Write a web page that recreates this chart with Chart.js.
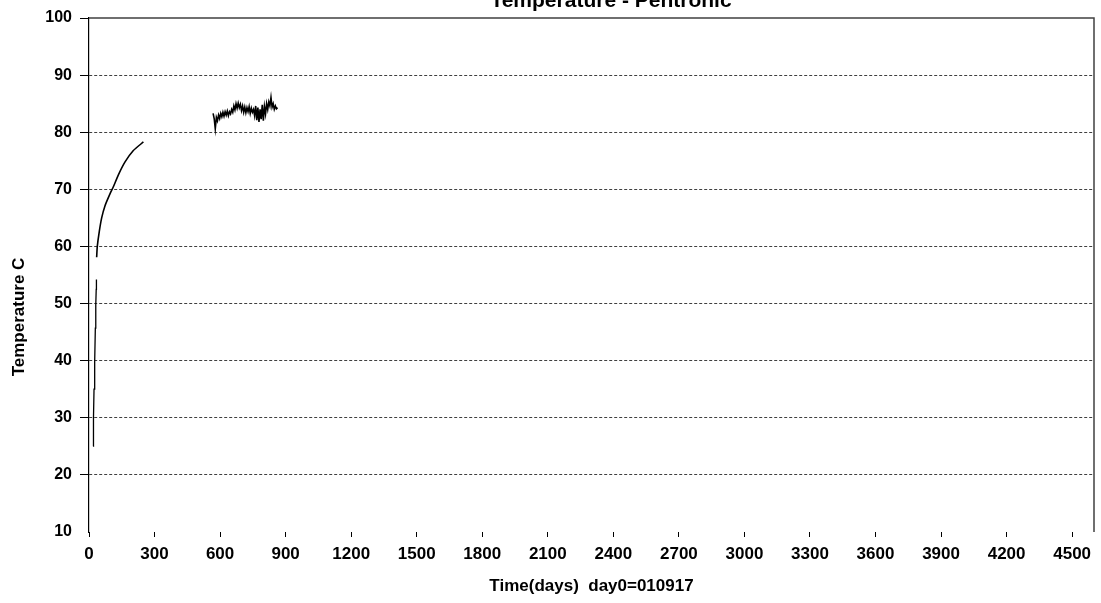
<!DOCTYPE html>
<html>
<head>
<meta charset="utf-8">
<script src="https://cdn.jsdelivr.net/npm/chart.js@4/dist/chart.umd.min.js"></script>
<style>
	html, body { margin: 0; padding: 0; background: #fff; }
	#wrap { position: relative; width: 1101px; height: 603px; }
</style>
</head>
<body>
<div id="wrap"><canvas id="chart"></canvas></div>
<script>
const chartTitle = 'Temperature - Pentronic';
const xTitle = 'Time(days)  day0=010917';
const yTitle = 'Temperature C';

const xTickValues = [0, 300, 600, 900, 1200, 1500, 1800, 2100, 2400, 2700, 3000, 3300, 3600, 3900, 4200, 4500];
const yTickValues = [10, 20, 30, 40, 50, 60, 70, 80, 90, 100];

// first heat-up, almost vertical
const riseDays = [20, 20.5, 23, 26, 29, 31, 33, 34];
const riseTemps = [25.0, 30.0, 35.0, 39.8, 45.7, 49.8, 52.5, 54.2];

// second run, slow approach
const warmupDays = [35, 38, 47, 58, 73, 96, 111, 134, 165, 203, 249];
const warmupTemps = [58.1, 60.0, 62.6, 65.0, 67.1, 69.2, 70.4, 72.5, 74.8, 76.8, 78.3];

// noisy plateau
const plateauDays = [
	568, 573, 578, 583, 588, 593, 598, 603, 608, 613,
	618, 623, 628, 633, 638, 643, 648, 653, 658, 663,
	668, 673, 678, 683, 688, 693, 698, 703, 708, 713,
	718, 723, 728, 733, 738, 743, 748, 753, 758, 763,
	768, 773, 778, 783, 788, 793, 798, 803, 808, 813,
	818, 823, 828, 833, 838, 843, 848, 853, 858, 863,
];
const plateauTemps = [
	83.3, 82.4, 80.6, 82.6, 82.0, 83.0, 82.4, 83.3, 82.7, 83.5,
	82.8, 83.6, 83.0, 83.7, 82.9, 83.6, 83.2, 84.0, 83.5, 84.6,
	83.9, 85.0, 84.2, 85.1, 84.3, 84.9, 83.8, 84.6, 83.5, 84.4,
	83.4, 84.3, 83.6, 84.5, 83.3, 84.2, 83.5, 84.0, 82.9, 84.6,
	82.1, 84.3, 81.8, 84.0, 82.3, 84.8, 82.0, 84.5, 83.2, 85.0,
	84.0, 85.3, 84.6, 86.1, 84.4, 85.0, 84.0, 84.6, 84.1, 84.3,
];

const toPoints = (xs, ys) => xs.map((x, i) => ({ x, y: ys[i] }));

const FONT = 'Arial, "Liberation Sans", sans-serif';

const lineSet = (xs, ys, width, tension) => ({
	data: toPoints(xs, ys),
	borderColor: '#000',
	borderWidth: width,
	pointRadius: 0,
	showLine: true,
	tension,
});

const frame = {
	id: 'frame',
	afterDraw(chart) {
		const { ctx, chartArea: a } = chart;
		ctx.save();
		ctx.strokeStyle = '#404040';
		ctx.lineWidth = 1.5;
		ctx.beginPath();
		ctx.moveTo(a.left, a.top);
		ctx.lineTo(a.right, a.top);
		ctx.lineTo(a.right, a.bottom);
		ctx.stroke();

		ctx.fillStyle = '#000';
		ctx.textAlign = 'center';
		ctx.textBaseline = 'alphabetic';
		ctx.font = `bold 21px ${FONT}`;
		ctx.fillText(chartTitle, 611, 7);

		ctx.translate(19, 317);
		ctx.rotate(-Math.PI / 2);
		ctx.textBaseline = 'middle';
		ctx.font = `bold 17px ${FONT}`;
		ctx.fillText(yTitle, 0, 0);
		ctx.restore();
	},
};

new Chart(document.getElementById('chart'), {
	type: 'scatter',
	data: {
		datasets: [
			lineSet(riseDays, riseTemps, 1.3, 0),
			lineSet(warmupDays, warmupTemps, 1.6, 0.2),
			lineSet(plateauDays, plateauTemps, 1.6, 0),
		],
	},
	options: {
		responsive: true,
		maintainAspectRatio: false,
		animation: false,
		layout: { padding: { top: 18, left: 0, right: 7, bottom: 0 } },
		plugins: {
			legend: { display: false },
			tooltip: { enabled: false },
		},
		scales: {
			x: {
				type: 'linear',
				min: 0,
				max: 4600,
				afterBuildTicks: (scale) => {
					scale.ticks = xTickValues.map((value) => ({ value }));
				},
				afterFit: (scale) => { scale.height = 71; },
				grid: {
					drawOnChartArea: false,
					drawTicks: true,
					tickLength: 5,
					tickColor: '#000',
				},
				border: { display: false },
				ticks: {
					color: '#000',
					padding: 7,
					maxRotation: 0,
					autoSkip: false,
					callback: (value) => String(value),
					font: { family: FONT, size: 17, weight: 'bold' },
				},
				title: {
					display: true,
					text: xTitle,
					color: '#000',
					padding: { top: 0, bottom: 6 },
					font: { family: FONT, size: 17, weight: 'bold' },
				},
			},
			y: {
				min: 10,
				max: 100,
				afterBuildTicks: (scale) => {
					scale.ticks = yTickValues.map((value) => ({ value }));
				},
				afterFit: (scale) => { scale.width = 89; },
				grid: {
					color: (ctx) => (ctx.tick && (ctx.tick.value === 10 || ctx.tick.value === 100) ? 'rgba(0,0,0,0)' : '#404040'),
					tickColor: (ctx) => (ctx.tick && ctx.tick.value === 10 ? 'rgba(0,0,0,0)' : '#000'),
					lineWidth: 1,
					tickLength: 9,
				},
				border: { display: true, color: '#000', width: 1.2, dash: [3, 2] },
				ticks: {
					color: '#000',
					padding: 8,
					callback: (value) => String(value),
					font: { family: FONT, size: 16, weight: 'bold' },
				},
			},
		},
	},
	plugins: [frame],
});
</script>
</body>
</html>
